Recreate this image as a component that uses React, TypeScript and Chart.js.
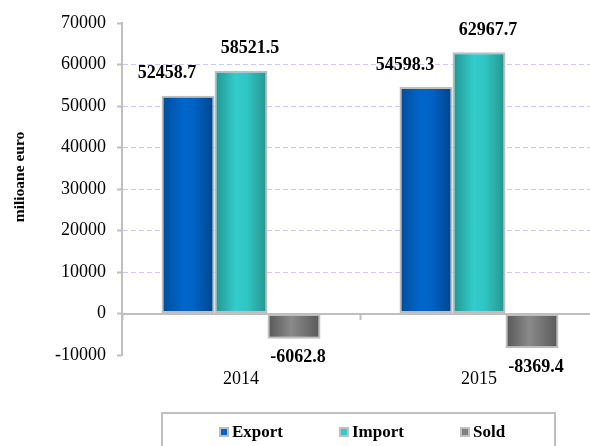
import React, { useEffect, useRef } from "react";
import { Chart, registerables } from "chart.js";

Chart.register(...registerables);

const categories = ["2014", "2015"];
const seriesNames = ["Export", "Import", "Sold"];
const exportValues = [52458.7, 54598.3];
const importValues = [58521.5, 62967.7];
const soldValues = [-6062.8, -8369.4];
const yMin = -10000;
const yMax = 70000;
const yStep = 10000;
const yTitle = "milioane euro";

const SERIF = "'Times New Roman', 'Liberation Serif', serif";

const gradientStops: [number, string][][] = [
  [[0, "#004c99"], [0.4, "#0066cc"], [0.6, "#0063c6"], [1, "#00448a"]],
  [[0, "#22948e"], [0.4, "#33cccc"], [0.6, "#31c6c4"], [1, "#25948e"]],
  [[0, "#575757"], [0.45, "#8a8a8a"], [1, "#585858"]],
];
const markerColors = ["#0066cc", "#33cccc", "#7f7f7f"];
const labelDx = [-21, 9, 4];
const labelDy = [22, 22, 19];
const legendItemX = [219, 339, 460];

const barGradientPlugin = {
  id: "barGradient",
  beforeDatasetDraw(chart: any, args: any) {
    const stops = gradientStops[args.index];
    const ctx = chart.ctx;
    args.meta.data.forEach((el: any) => {
      const { x, width } = el.getProps(["x", "width"], true);
      const g = ctx.createLinearGradient(x - width / 2, 0, x + width / 2, 0);
      stops.forEach(([o, c]) => g.addColorStop(o, c));
      el.options = { ...el.options, backgroundColor: g };
    });
  },
};

const extrasPlugin = {
  id: "extras",
  afterDatasetsDraw(chart: any) {
    const ctx = chart.ctx;
    ctx.save();
    ctx.fillStyle = "#000";
    ctx.font = `bold 18px ${SERIF}`;
    ctx.textAlign = "center";
    ctx.textBaseline = "middle";
    chart.data.datasets.forEach((ds: any, i: number) => {
      const meta = chart.getDatasetMeta(i);
      meta.data.forEach((el: any, j: number) => {
        const v = ds.data[j];
        const { x, y } = el.getProps(["x", "y"], true);
        const ty = v >= 0 ? y - labelDy[i] : y + labelDy[i];
        ctx.fillText(v.toFixed(1), x + labelDx[i], ty);
      });
    });
    ctx.restore();
  },
  afterDraw(chart: any) {
    const ctx = chart.ctx;
    const area = chart.chartArea;
    // y axis title
    ctx.save();
    ctx.fillStyle = "#000";
    ctx.font = `bold 15.5px ${SERIF}`;
    ctx.translate(24, (area.top + area.bottom) / 2 - 12);
    ctx.rotate(-Math.PI / 2);
    ctx.textAlign = "center";
    ctx.textBaseline = "alphabetic";
    ctx.fillText(yTitle, 0, 0);
    ctx.restore();
    // legend
    ctx.save();
    ctx.strokeStyle = "#c0c0c0";
    ctx.lineWidth = 2;
    ctx.strokeRect(162, 413, 393, 45);
    ctx.font = `bold 17px ${SERIF}`;
    ctx.textBaseline = "middle";
    ctx.textAlign = "left";
    chart.data.datasets.forEach((ds: any, i: number) => {
      const mx = legendItemX[i];
      const my = 432;
      ctx.fillStyle = "#c0c0c0";
      ctx.fillRect(mx, my - 5, 10, 10);
      ctx.fillStyle = markerColors[i];
      ctx.fillRect(mx + 2, my - 3, 6, 6);
      ctx.fillStyle = "#000";
      ctx.fillText(ds.label, mx + 13, my + 1);
    });
    ctx.restore();
  },
};

export default function App() {
  const ref = useRef<HTMLCanvasElement>(null);
  useEffect(() => {
    if (!ref.current) return;
    const chart = new Chart(ref.current, {
      type: "bar",
      data: {
        labels: categories,
        datasets: [
          { label: seriesNames[0], data: exportValues },
          { label: seriesNames[1], data: importValues },
          { label: seriesNames[2], data: soldValues },
        ].map((d) => ({
          ...d,
          xAxisID: "x",
          backgroundColor: "#888",
          borderColor: "#bfbfbf",
          borderWidth: 2,
          borderSkipped: false,
          categoryPercentage: 0.668,
          barPercentage: 1,
        })),
      },
      options: {
        responsive: false,
        animation: false,
        events: [],
        layout: { padding: { top: 23, right: 2, left: 0, bottom: 0 } },
        plugins: { legend: { display: false }, tooltip: { enabled: false } },
        scales: {
          y: {
            min: yMin,
            max: yMax,
            afterFit: (s: any) => {
              s.width = 122;
            },
            ticks: {
              stepSize: yStep,
              padding: 11,
              color: "#000",
              font: { family: SERIF, size: 18 },
              callback: (v: any) => String(v),
            },
            grid: {
              color: (c: any) =>
                c.tick && c.tick.value > 0 && c.tick.value < yMax ? "#c8c8ff" : "rgba(0,0,0,0)",
              lineWidth: 1,
              tickLength: 5,
              tickColor: "#bfbfbf",
              tickWidth: 2,
            },
            border: { color: "#bfbfbf", width: 2, dash: [5, 3] },
          },
          x: {
            type: "category",
            position: { y: 0 },
            offset: true,
            ticks: { display: false },
            grid: {
              offset: true,
              drawOnChartArea: false,
              tickLength: 5,
              tickColor: "#bfbfbf",
              tickWidth: 2,
            },
            border: { color: "#bfbfbf", width: 2 },
          },
          x2: {
            type: "category",
            position: "bottom",
            offset: true,
            afterFit: (s: any) => {
              s.height = 91;
            },
            ticks: {
              padding: 5,
              color: "#000",
              font: { family: SERIF, size: 18 },
            },
            grid: { display: false },
            border: { display: false },
          },
        },
      } as any,
      plugins: [barGradientPlugin, extrasPlugin],
    });
    return () => chart.destroy();
  }, []);
  return (
    <div
      style={{
        position: "fixed",
        left: 0,
        top: 0,
        width: 590,
        height: 446,
        overflow: "hidden",
        background: "#fff",
      }}
    >
      <canvas ref={ref} width={600} height={446} style={{ display: "block" }} />
    </div>
  );
}
